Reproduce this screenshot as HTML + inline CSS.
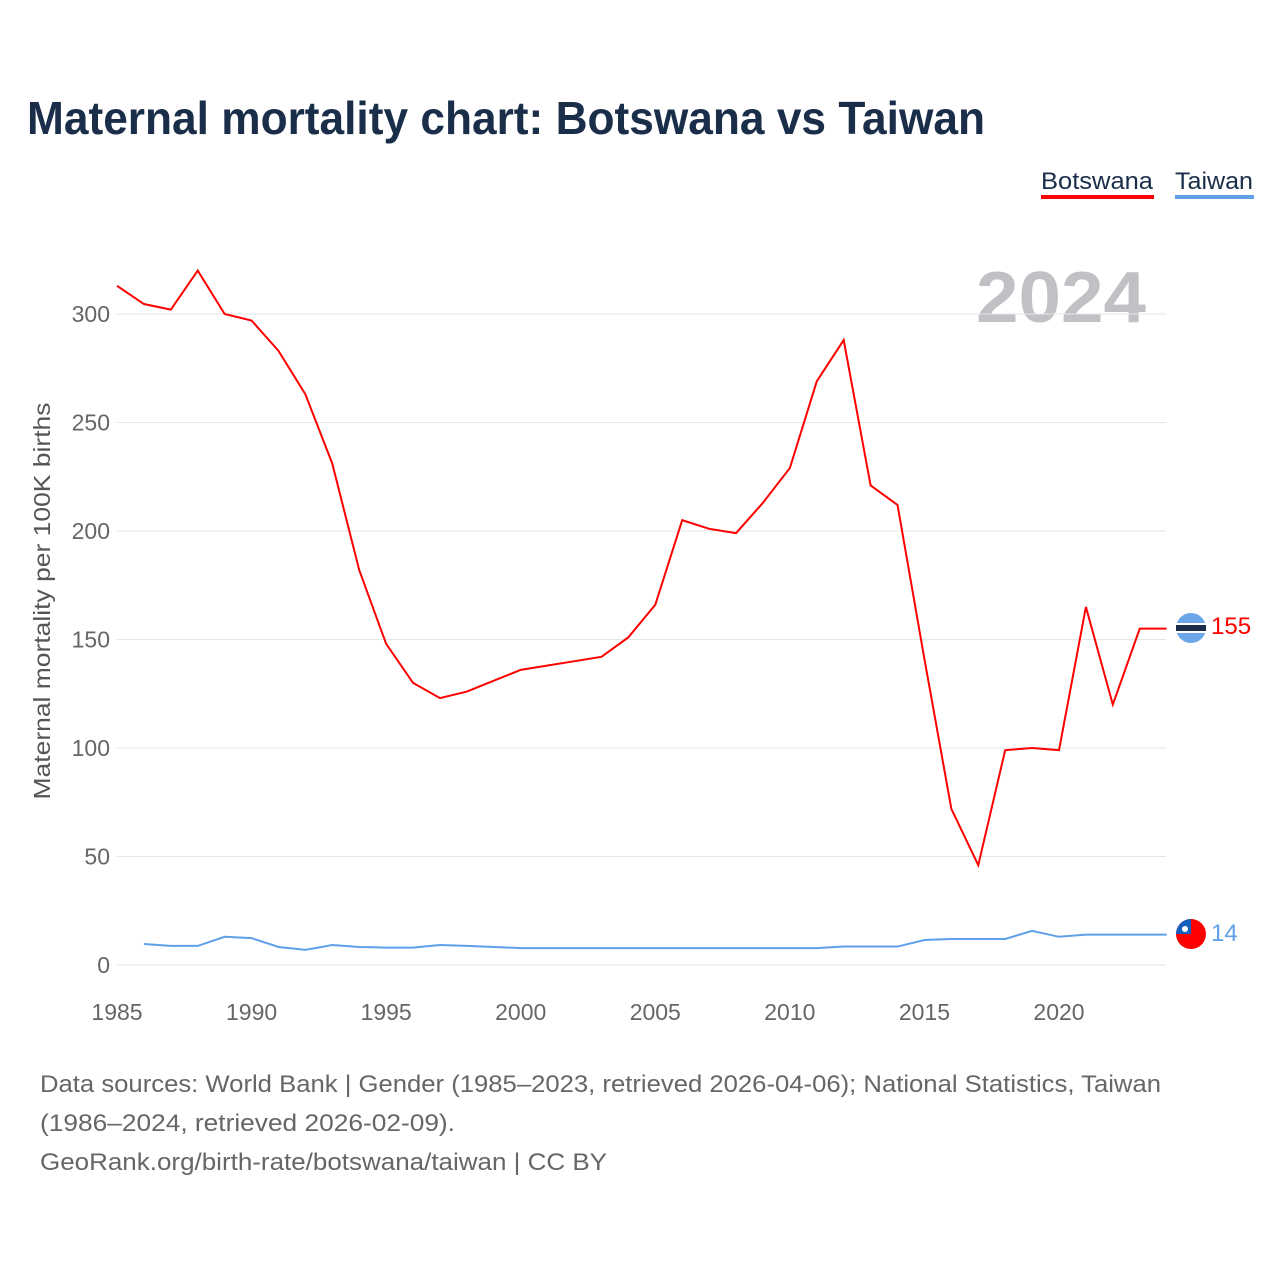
<!DOCTYPE html>
<html><head><meta charset="utf-8"><style>
body{margin:0;background:#fff;font-family:"Liberation Sans",sans-serif;}
svg{display:block}
</style></head><body>
<svg id="c" width="1280" height="1280" xmlns="http://www.w3.org/2000/svg">
<rect width="1280" height="1280" fill="#fff"/>
<text x="27" y="134" font-size="46" font-weight="bold" fill="#1a2e4a" textLength="958" lengthAdjust="spacingAndGlyphs">Maternal mortality chart: Botswana vs Taiwan</text>
<g><text x="1041" y="189" font-size="24" fill="#1a2e4a" textLength="112" lengthAdjust="spacingAndGlyphs">Botswana</text><rect x="1041" y="195" width="113" height="4" fill="#ff0000"/></g>
<g><text x="1175" y="189" font-size="24" fill="#1a2e4a" textLength="78" lengthAdjust="spacingAndGlyphs">Taiwan</text><rect x="1175" y="195" width="79" height="4" fill="#5fa0e8"/></g>
<text x="1146" y="322" text-anchor="end" font-size="72" font-weight="bold" fill="#bfc1c4" textLength="170" lengthAdjust="spacingAndGlyphs">2024</text>
<g id="grid"></g><g id="ylab"></g><g id="xlab"></g>
<text transform="translate(50,601) rotate(-90)" text-anchor="middle" font-size="23" fill="#555" textLength="397" lengthAdjust="spacingAndGlyphs">Maternal mortality per 100K births</text>
<g id="series"></g>
<g><circle cx="1191" cy="628" r="15" fill="#6ba6e8"/><rect x="1176" y="623" width="30" height="10" fill="#fff"/><rect x="1176" y="625" width="30" height="6" fill="#1a2e4a"/></g>
<g><circle cx="1191" cy="934" r="15" fill="#ff0000"/><path d="M1176,934 A15,15 0 0 1 1191,919 L1191,934 Z" fill="#1560bd"/><circle cx="1185" cy="929" r="3" fill="#fff"/></g>
<text x="1211" y="634" font-size="24" fill="#ff0000">155</text>
<text x="1211" y="941" font-size="24" fill="#5fa0e8">14</text>
<text font-size="24" fill="#666"><tspan x="40" y="1092" textLength="1121" lengthAdjust="spacingAndGlyphs">Data sources: World Bank | Gender (1985–2023, retrieved 2026-04-06); National Statistics, Taiwan</tspan><tspan x="40" y="1131" textLength="415" lengthAdjust="spacingAndGlyphs">(1986–2024, retrieved 2026-02-09).</tspan><tspan x="40" y="1170" textLength="567" lengthAdjust="spacingAndGlyphs">GeoRank.org/birth-rate/botswana/taiwan | CC BY</tspan></text>
</svg>
<script>
const yTicks=[0,50,100,150,200,250,300];
const xTicks=[1985,1990,1995,2000,2005,2010,2015,2020];
const botswanaYears=[1985,1986,1987,1988,1989,1990,1991,1992,1993,1994,1995,1996,1997,1998,1999,2000,2001,2002,2003,2004,2005,2006,2007,2008,2009,2010,2011,2012,2013,2014,2015,2016,2017,2018,2019,2020,2021,2022,2023,2024];
const botswanaValues=[313,304.6,302,320,300,297,283,263,231,182,148,130,123,126,131,136,138,140,142,151,166,205,201,199,213,229,269,288,221,212,141,72,46,99,100,99,165,120,155,155];
const taiwanYears=[1986,1987,1988,1989,1990,1991,1992,1993,1994,1995,1996,1997,1998,1999,2000,2001,2002,2003,2004,2005,2006,2007,2008,2009,2010,2011,2012,2013,2014,2015,2016,2017,2018,2019,2020,2021,2022,2023,2024];
const taiwanValues=[9.7,8.8,8.8,13,12.4,8.3,7,9.2,8.3,8,8,9.2,8.8,8.3,7.8,7.8,7.8,7.8,7.8,7.8,7.8,7.8,7.8,7.8,7.8,7.8,8.5,8.5,8.5,11.5,12,12,12,15.7,13,14,14,14,14];
const NS="http://www.w3.org/2000/svg";
const X=y=>117+(y-1985)*(1059-117)/35;
const Y=v=>965-v*651/300;
function mk(t,a,p){const e=document.createElementNS(NS,t);for(const k in a)e.setAttribute(k,a[k]);p.appendChild(e);return e;}
const g=document.getElementById('grid'),yl=document.getElementById('ylab'),xl=document.getElementById('xlab'),s=document.getElementById('series');
yTicks.forEach(v=>{
 const l=mk('line',{x1:117,x2:1166,y1:Y(v),y2:Y(v),stroke:'#e6e6e6','stroke-width':1},g);
 
 
 const t=mk('text',{x:110,y:Y(v)+8,'text-anchor':'end','font-size':23,fill:'#666'},yl);t.textContent=v;
 
 
});
xTicks.forEach(v=>{
 const t=mk('text',{x:X(v),y:1020,'text-anchor':'middle','font-size':23,fill:'#666'},xl);t.textContent=v;
 
 
});
const p1=mk('polyline',{points:botswanaYears.map((y,i)=>X(y)+','+Y(botswanaValues[i])).join(' '),fill:'none',stroke:'#ff0000','stroke-width':2},s);


const p2=mk('polyline',{points:taiwanYears.map((y,i)=>X(y)+','+Y(taiwanValues[i])).join(' '),fill:'none',stroke:'#5fa0e8','stroke-width':2},s);


</script>
</body></html>
